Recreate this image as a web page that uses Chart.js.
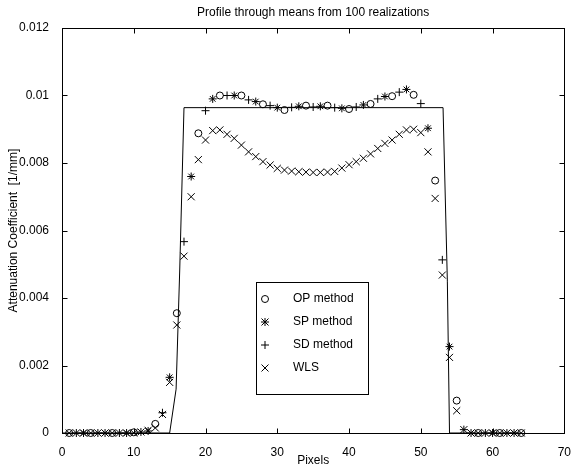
<!DOCTYPE html>
<html>
<head>
<meta charset="utf-8">
<title>Profile through means from 100 realizations</title>
<script src="https://cdn.jsdelivr.net/npm/chart.js@4.4.1/dist/chart.umd.min.js"></script>
<style>
    html, body { margin: 0; padding: 0; background: #fff; }
</style>
</head>
<body>
<canvas id="profile-chart" width="575" height="471"></canvas>
<script>
// OP, SP and SD were plotted on every third pixel, WLS on every pixel
var opPixels = [1, 4, 7, 10, 13, 16, 19, 22, 25, 28, 31, 34, 37, 40, 43, 46, 49, 52, 55, 58, 61, 64];
var opValues = [0, 0, 0, 0.00002, 0.00027, 0.00355, 0.00888, 0.0100, 0.0100, 0.00974, 0.00957, 0.0097,
    0.0097, 0.0096, 0.00975, 0.00998, 0.01002, 0.00748, 0.00096, 0, 0, 0];

var spPixels = [3, 6, 9, 12, 15, 18, 21, 24, 27, 30, 33, 36, 39, 42, 45, 48, 51, 54, 57, 60, 63];
var spValues = [0, 0, 0, 0.00006, 0.00165, 0.0076, 0.0099, 0.0100, 0.00982, 0.00964, 0.00968, 0.00968,
    0.00962, 0.00972, 0.00997, 0.01018, 0.00903, 0.00256, 0, 0, 0];

var sdPixels = [2, 5, 8, 11, 14, 17, 20, 23, 26, 29, 32, 35, 38, 41, 44, 47, 50, 53, 56, 59, 62];
var sdValues = [0, 0, 0, 0.00003, 0.0006, 0.00567, 0.00955, 0.0100, 0.00987, 0.0097, 0.00965, 0.00966,
    0.00964, 0.00966, 0.0099, 0.0101, 0.00976, 0.00513, 0.0001, 0, 0];

var wlsPixels = [1, 2, 3, 4, 5, 6, 7, 8, 9, 10, 11, 12, 13, 14, 15, 16, 17, 18, 19, 20, 21, 22,
    23, 24, 25, 26, 27, 28, 29, 30, 31, 32, 33, 34, 35, 36, 37, 38, 39, 40, 41, 42, 43,
    44, 45, 46, 47, 48, 49, 50, 51, 52, 53, 54, 55, 56, 57, 58, 59, 60, 61, 62, 63, 64];
var wlsValues = [0, 0, 0, 0, 0, 0, 0, 0, 0, 0, 0.00003, 0.00008, 0.00015, 0.00055, 0.0015, 0.0032,
    0.00524, 0.0070, 0.0081, 0.00868, 0.00896, 0.00898, 0.00885, 0.00873, 0.00853, 0.00833,
    0.00819, 0.00804, 0.00794, 0.00784, 0.00779, 0.00776, 0.00774, 0.00773, 0.00772, 0.00772,
    0.00773, 0.00775, 0.00785, 0.00795, 0.00804, 0.00814, 0.00827, 0.00843, 0.00858, 0.00868,
    0.00885, 0.00898, 0.0090, 0.0089, 0.00833, 0.00695, 0.00468, 0.00224, 0.00066, 0.0001,
    0, 0, 0, 0, 0, 0, 0, 0];

// true phantom profile (solid line)
var truePixels = [0, 15, 15.9, 16.4, 17, 53.1, 53.7, 54, 64];
var trueValues = [0, 0, 0.0013, 0.0048, 0.00964, 0.00964, 0.0045, 0, 0];

var xTickValues = [0, 10, 20, 30, 40, 50, 60, 70];
var yTickValues = [0, 0.002, 0.004, 0.006, 0.008, 0.01, 0.012];
var yTickLabels = ['0', '0.002', '0.004', '0.006', '0.008', '0.01', '0.012'];

var legendNames = ['OP method', 'SP method', 'SD method', 'WLS'];
var legendStyles = ['circle', 'star', 'cross', 'crossRot'];

var fontFamily = '"Liberation Sans", Arial, Helvetica, sans-serif';
var tickLen = 5;

function toPoints(xs, ys) {
    return xs.map(function (x, i) { return { x: x, y: ys[i] }; });
}

function markerSet(label, xs, ys, style, radius) {
    return {
        label: label,
        data: toPoints(xs, ys),
        showLine: false,
        pointStyle: style,
        pointRadius: radius,
        pointBorderWidth: 1,
        pointBorderColor: '#000',
        pointBackgroundColor: 'rgba(0,0,0,0)',
        clip: false
    };
}

// draw a marker by hand for the legend box
function drawMarker(ctx, style, x, y) {
    ctx.beginPath();
    if (style === 'circle') {
        ctx.arc(x, y, 3.5, 0, Math.PI * 2);
    }
    if (style === 'cross' || style === 'star') {
        ctx.moveTo(x - 4, y); ctx.lineTo(x + 4, y);
        ctx.moveTo(x, y - 4); ctx.lineTo(x, y + 4);
    }
    if (style === 'crossRot' || style === 'star') {
        var d = 3.5;
        ctx.moveTo(x - d, y - d); ctx.lineTo(x + d, y + d);
        ctx.moveTo(x - d, y + d); ctx.lineTo(x + d, y - d);
    }
    ctx.stroke();
}

var frameAndTicks = {
    id: 'frameAndTicks',
    afterDatasetsDraw: function (chart) {
        var ctx = chart.ctx;
        var a = chart.chartArea;
        var xs = chart.scales.x;
        var ys = chart.scales.y;
        var l = Math.round(a.left) + 0.5, r = Math.round(a.right) + 0.5;
        var t = Math.round(a.top) + 0.5, b = Math.round(a.bottom) + 0.5;
        ctx.save();
        ctx.strokeStyle = '#000';
        ctx.lineWidth = 1;
        ctx.strokeRect(l, t, r - l, b - t);
        ctx.beginPath();
        xTickValues.forEach(function (v) {
            var px = Math.round(xs.getPixelForValue(v)) + 0.5;
            ctx.moveTo(px, b); ctx.lineTo(px, b - tickLen);
            ctx.moveTo(px, t); ctx.lineTo(px, t + tickLen);
        });
        yTickValues.forEach(function (v) {
            var py = Math.round(ys.getPixelForValue(v)) + 0.5;
            ctx.moveTo(l, py); ctx.lineTo(l + tickLen, py);
            ctx.moveTo(r, py); ctx.lineTo(r - tickLen, py);
        });
        ctx.stroke();
        ctx.restore();
    }
};

var legendBox = {
    id: 'legendBox',
    afterDraw: function (chart) {
        var ctx = chart.ctx;
        var box = { left: 256.5, top: 282.5, width: 112, height: 112 };
        ctx.save();
        ctx.fillStyle = '#fff';
        ctx.fillRect(box.left, box.top, box.width, box.height);
        ctx.strokeStyle = '#000';
        ctx.lineWidth = 1;
        ctx.strokeRect(box.left, box.top, box.width, box.height);
        ctx.font = '12px ' + fontFamily;
        ctx.fillStyle = '#000';
        ctx.textBaseline = 'middle';
        legendNames.forEach(function (name, i) {
            var y = 299 + i * 23;
            drawMarker(ctx, legendStyles[i], 265, y);
            ctx.fillText(name, 293, y);
        });
        ctx.restore();
    }
};

var ctx = document.getElementById('profile-chart').getContext('2d');
new Chart(ctx, {
    type: 'scatter',
    data: {
        datasets: [
            {
                label: 'true profile',
                data: toPoints(truePixels, trueValues),
                showLine: true,
                borderColor: '#000',
                borderWidth: 1,
                pointRadius: 0,
                tension: 0
            },
            markerSet('OP method', opPixels, opValues, 'circle', 3.5),
            markerSet('SP method', spPixels, spValues, 'star', 4),
            markerSet('SD method', sdPixels, sdValues, 'cross', 4),
            markerSet('WLS', wlsPixels, wlsValues, 'crossRot', 5)
        ]
    },
    options: {
        responsive: false,
        animation: false,
        layout: { padding: { top: 0, right: 9, bottom: 0, left: 0 } },
        plugins: {
            legend: { display: false },
            tooltip: { enabled: false },
            title: {
                display: true,
                text: 'Profile through means from 100 realizations',
                fullSize: false,
                color: '#000',
                font: { family: fontFamily, size: 12, weight: 'normal' },
                padding: { top: 5, bottom: 8.6 }
            }
        },
        scales: {
            x: {
                type: 'linear',
                min: 0,
                max: 70,
                afterBuildTicks: function (scale) {
                    scale.ticks = xTickValues.map(function (v) { return { value: v }; });
                },
                afterFit: function (scale) { scale.height = 38; },
                grid: { display: false },
                border: { display: false },
                ticks: {
                    color: '#000',
                    padding: 4,
                    maxRotation: 0,
                    font: { family: fontFamily, size: 12 }
                },
                title: {
                    display: true,
                    text: 'Pixels',
                    color: '#000',
                    font: { family: fontFamily, size: 12 },
                    padding: { top: 0, bottom: 2.8 }
                }
            },
            y: {
                type: 'linear',
                min: 0,
                max: 0.012,
                afterBuildTicks: function (scale) {
                    scale.ticks = yTickValues.map(function (v) { return { value: v }; });
                },
                afterFit: function (scale) { scale.width = 62; },
                grid: { display: false },
                border: { display: false },
                ticks: {
                    color: '#000',
                    padding: 5,
                    font: { family: fontFamily, size: 12 },
                    callback: function (value) {
                        var i = yTickValues.indexOf(value);
                        return i >= 0 ? yTickLabels[i] : '';
                    }
                },
                title: {
                    display: true,
                    text: 'Attenuation Coefficient  [1/mm]',
                    color: '#000',
                    font: { family: fontFamily, size: 12 },
                    padding: { top: 6.8, bottom: 0 }
                }
            }
        }
    },
    plugins: [frameAndTicks, legendBox]
});
</script>
</body>
</html>
